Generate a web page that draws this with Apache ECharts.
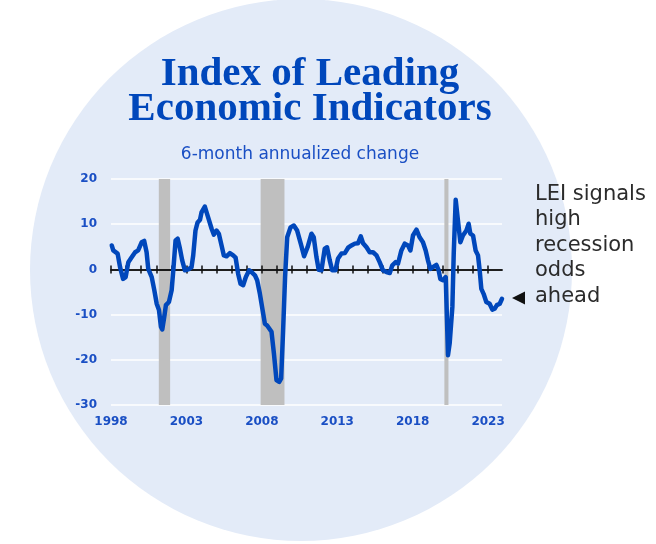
<!DOCTYPE html>
<html>
<head>
<meta charset="utf-8">
<script src="https://cdn.jsdelivr.net/npm/echarts@6/dist/echarts.min.js"></script>
<style>
  html, body { margin: 0; padding: 0; background: #fff; }
  #chart { width: 656px; height: 544px; }
</style>
</head>
<body>
<div id="chart"></div>
<script>
// LEI 6-month annualized change (decimal year, %).
const leiYears = [
  1998.05, 1998.15, 1998.22, 1998.44, 1998.6, 1998.8, 1998.97, 1999.15, 1999.37, 1999.6, 1999.8,
  2000.03, 2000.2, 2000.36, 2000.47, 2000.7, 2000.87, 2001.03, 2001.18, 2001.31, 2001.4, 2001.53,
  2001.64, 2001.84, 2002.02, 2002.13, 2002.28, 2002.42, 2002.57, 2002.72, 2002.9, 2003.12, 2003.34,
  2003.45, 2003.6, 2003.74, 2003.9, 2004.0, 2004.22, 2004.44, 2004.67, 2004.82, 2005.0, 2005.15,
  2005.33, 2005.48, 2005.66, 2005.88, 2006.1, 2006.26, 2006.43, 2006.59, 2006.76, 2006.94, 2007.16,
  2007.32, 2007.54, 2007.69, 2007.87, 2008.05, 2008.2, 2008.35, 2008.48, 2008.64, 2008.8, 2008.97,
  2009.15, 2009.28, 2009.41, 2009.54, 2009.68, 2009.9, 2010.12, 2010.34, 2010.4, 2010.58, 2010.8,
  2011.03, 2011.29, 2011.44, 2011.62, 2011.77, 2011.95, 2012.17, 2012.32, 2012.5, 2012.66, 2012.88,
  2013.05, 2013.28, 2013.5, 2013.72, 2013.94, 2014.16, 2014.38, 2014.56, 2014.71, 2014.94, 2015.15,
  2015.37, 2015.6, 2015.81, 2016.03, 2016.26, 2016.48, 2016.65, 2016.87, 2017.03, 2017.25, 2017.47,
  2017.69, 2017.85, 2018.02, 2018.25, 2018.46, 2018.68, 2018.86, 2019.01, 2019.17, 2019.34, 2019.57,
  2019.72, 2019.83, 2020.01, 2020.19, 2020.34, 2020.45, 2020.63, 2020.72, 2020.85, 2021.0, 2021.16,
  2021.33, 2021.56, 2021.71, 2021.82, 2022.0, 2022.17, 2022.33, 2022.44, 2022.55, 2022.7, 2022.88,
  2023.1, 2023.28, 2023.43, 2023.58, 2023.77, 2023.92
];
const leiValues = [
  5.3, 4.2, 4.6, 3.5, 0.5, -2.1, -1.7, 1.6, 2.7, 3.8, 4.2,
  6.0, 6.3, 3.8, 0.1, -1.7, -4.6, -7.6, -9.0, -12.7, -13.3, -10.5,
  -7.9, -7.2, -4.6, -0.2, 6.4, 6.8, 4.6, 2.0, -0.2, 0.0, 0.5,
  3.1, 8.6, 10.4, 11.0, 12.6, 13.9, 11.5, 9.0, 7.7, 8.6, 7.9,
  5.3, 3.1, 2.9, 3.6, 3.1, 2.6, -1.0, -3.2, -3.5, -1.7, -0.2,
  -0.6, -1.3, -2.4, -5.4, -9.0, -12.0, -12.4, -12.0, -13.8, -18.6, -24.5,
  -24.9, -24.1, -13.5, -1.7, 7.1, 9.3, 9.7, 8.6, 8.2, 5.7, 2.9,
  4.9, 7.9, 7.1, 2.7, -0.1, -0.2, 4.6, 4.9, 2.0, -0.2, -0.2,
  2.4, 3.5, 3.6, 4.8, 5.3, 5.7, 5.8, 7.3, 5.8, 4.9, 3.8,
  3.8, 3.1, 1.6, -0.2, -0.6, -0.8, 0.9, 1.6, 1.3, 4.2, 5.7,
  5.3, 4.2, 7.5, 8.8, 7.1, 6.0, 4.2, 2.0, 0.1, 0.5, 1.0,
  -0.2, -2.1, -2.4, -1.7, -19.0, -16.4, -8.3, 3.5, 15.4, 10.8, 6.0,
  7.5, 8.6, 10.1, 7.9, 7.5, 4.2, 3.1, -0.2, -4.3, -5.4, -7.2,
  -7.6, -8.9, -8.7, -7.9, -7.6, -6.5
];
// NBER recessions (start, end) as decimal years
const recessions = [[2001.17, 2001.92], [2007.92, 2009.5], [2020.1, 2020.37]];

const yearLabels = [1998, 2003, 2008, 2013, 2018, 2023];
const zeroTickYears = [1998, 1999, 2000, 2001, 2002, 2003, 2004, 2005, 2006, 2007, 2008, 2009, 2010,
  2011, 2012, 2013, 2014, 2015, 2016, 2017, 2018, 2019, 2020, 2021, 2022, 2023];
const noteLines = ["LEI signals", "high", "recession", "odds", "ahead"];

const BLUE = "#0047bb";
const LABEL_BLUE = "#1a4fc4";
const X_MIN = 1998, X_MAX = 2023.92;

const chart = echarts.init(document.getElementById("chart"));

// zero-line axis: a copy with ticks going down, another with ticks going up
const zeroAxis = (inside) => ({
  type: "value", min: X_MIN, max: X_MAX, position: "bottom", z: 3,
  axisLine: { show: true, onZero: true, onZeroAxisIndex: 0, lineStyle: { color: "#111", width: 1.5 } },
  axisTick: { show: true, inside, length: 4, customValues: zeroTickYears, lineStyle: { color: "#111", width: 1.5 } },
  axisLabel: { show: false }, splitLine: { show: false },
});

const note = noteLines.map((t, i) => ({
  type: "text", left: 535, top: 184 + i * 25.5, z: 10,
  style: { text: t, font: "21px 'DejaVu Sans'", fill: "#2b2b2b" },
}));

chart.setOption({
  animation: false,
  backgroundColor: "#ffffff",
  grid: { left: 111, right: 154, top: 179, bottom: 139 },
  graphic: [
    { type: "circle", shape: { cx: 301, cy: 270, r: 271 }, style: { fill: "#e3ebf8" }, z: -10, silent: true },
    { type: "text", x: 310, y: 74, z: 10,
      style: { text: "Index of Leading", font: "bold 41px 'Liberation Serif'", fill: BLUE, align: "center", verticalAlign: "middle" } },
    { type: "text", x: 310, y: 109, z: 10,
      style: { text: "Economic Indicators", font: "bold 41px 'Liberation Serif'", fill: BLUE, align: "center", verticalAlign: "middle" } },
    { type: "text", x: 300, y: 155, z: 10,
      style: { text: "6-month annualized change", font: "17px 'DejaVu Sans'", fill: LABEL_BLUE, align: "center", verticalAlign: "middle" } },
    { type: "polygon", z: 10, shape: { points: [[512, 298], [525, 291.5], [525, 304.5]] }, style: { fill: "#111" } },
    ...note,
  ],
  xAxis: [
    {
      type: "value", min: X_MIN, max: X_MAX, position: "bottom",
      axisLine: { show: false, onZero: false }, axisTick: { show: false }, splitLine: { show: false },
      axisLabel: { customValues: yearLabels, formatter: (v) => String(v), color: LABEL_BLUE,
        fontFamily: "DejaVu Sans", fontWeight: "bold", fontSize: 12, margin: 11 },
    },
    zeroAxis(false),
    zeroAxis(true),
  ],
  yAxis: {
    type: "value", min: -30, max: 20, interval: 10, z: 0,
    axisLine: { show: false }, axisTick: { show: false },
    axisLabel: { color: LABEL_BLUE, fontFamily: "DejaVu Sans", fontWeight: "bold", fontSize: 12, margin: 14 },
    splitLine: { lineStyle: { color: "#ffffff", width: 1.5 } },
  },
  series: [
    {
      // recession shading only
      type: "line", data: [], z: 1, silent: true,
      markArea: {
        silent: true,
        itemStyle: { color: "#bfbfbf" },
        data: recessions.map(([a, b]) => [{ xAxis: a, yAxis: 20 }, { xAxis: b, yAxis: -30 }]),
      },
    },
    {
      name: "LEI", type: "line", z: 5, symbol: "none", smooth: false,
      data: leiYears.map((y, i) => [y, leiValues[i]]),
      lineStyle: { color: BLUE, width: 4.5, join: "round", cap: "round" },
    },
  ],
});
</script>
</body>
</html>
